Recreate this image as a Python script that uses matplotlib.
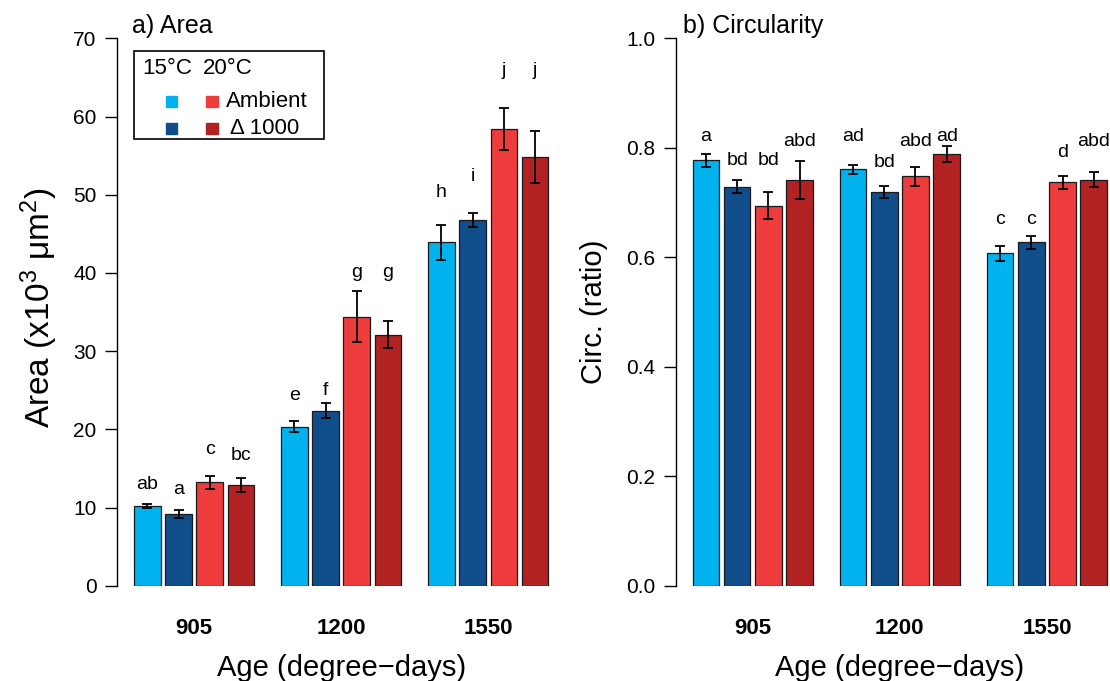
import matplotlib
matplotlib.use("Agg")
import matplotlib.pyplot as plt
from matplotlib.patches import Rectangle
import numpy as np

plt.rcParams["font.family"] = ["Liberation Sans", "DejaVu Sans"]
plt.rcParams["mathtext.fontset"] = "custom"
plt.rcParams["mathtext.rm"] = "Liberation Sans"
plt.rcParams["mathtext.it"] = "Liberation Sans:italic"

# ages (degree-days) and the four treatments per age
AGES = ["905", "1200", "1550"]
TREATMENTS = ["15°C Ambient", "15°C Δ1000", "20°C Ambient", "20°C Δ1000"]
COLORS = ["#00B2EE", "#104E8B", "#EE3B3B", "#B22222"]

# a) area (x10^3 um^2), rows = age, cols = treatment
AREA_MEAN = [[10.2, 9.2, 13.2, 12.9],
             [20.3, 22.4, 34.4, 32.1],
             [43.9, 46.8, 58.4, 54.8]]
AREA_SE = [[0.3, 0.5, 0.8, 0.9],
           [0.7, 0.9, 3.3, 1.7],
           [2.2, 0.9, 2.65, 3.35]]
AREA_LETTERS = [["ab", "a", "c", "bc"],
                ["e", "f", "g", "g"],
                ["h", "i", "j", "j"]]
AREA_LETTER_Y = [[12.4, 11.7, 16.8, 16.1],
                 [23.7, 24.4, 39.5, 39.5],
                 [49.7, 51.8, 65.3, 65.3]]

# b) circularity (ratio)
CIRC_MEAN = [[0.777, 0.729, 0.694, 0.741],
             [0.761, 0.720, 0.748, 0.789],
             [0.607, 0.627, 0.737, 0.742]]
CIRC_SE = [[0.012, 0.012, 0.025, 0.035],
           [0.008, 0.011, 0.017, 0.015],
           [0.013, 0.011, 0.012, 0.013]]
CIRC_LETTERS = [["a", "bd", "bd", "abd"],
                ["ad", "bd", "abd", "ad"],
                ["c", "c", "d", "abd"]]
CIRC_LETTER_Y = [[0.812, 0.768, 0.768, 0.803],
                 [0.812, 0.764, 0.803, 0.812],
                 [0.660, 0.660, 0.784, 0.803]]

# R-style barplot layout: width 1, space c(0.17, 1)
BAR_SPACE = 0.17
GROUP_SPACE = 1.0
n_bar = len(TREATMENTS)
group_step = n_bar + (n_bar - 1) * BAR_SPACE + GROUP_SPACE
lefts = np.array([[GROUP_SPACE + g * group_step + i * (1 + BAR_SPACE)
                   for i in range(n_bar)] for g in range(len(AGES))])
centers = lefts + 0.5
x_lo, x_hi = lefts.min(), lefts.max() + 1
pad = 0.04 * (x_hi - x_lo)

W, H = 1110, 681
fig = plt.figure(figsize=(W / 100, H / 100), dpi=100)

ax_w = (x_hi - x_lo + 2 * pad) * (414.5 / (x_hi - x_lo)) / W
ax_b = 1 - 585.7 / H
ax_h = (585.7 - 38.3) / H
ax1 = fig.add_axes([117.4 / W, ax_b, ax_w, ax_h])
ax2 = fig.add_axes([676.0 / W, ax_b, ax_w, ax_h])


def draw_panel(ax, means, ses, letters, letter_y, ymax, yticks, ticklabels):
    means = np.array(means)
    ses = np.array(ses)
    for i in range(n_bar):
        ax.bar(centers[:, i], means[:, i], width=1.0, color=COLORS[i],
               edgecolor="#1a1a1a", linewidth=0.9, zorder=2)
        ax.errorbar(centers[:, i], means[:, i], yerr=ses[:, i], fmt="none",
                    ecolor="black", elinewidth=1.3, capsize=3.5, capthick=1.3,
                    zorder=3)
    for g in range(len(AGES)):
        for i in range(n_bar):
            ax.text(centers[g, i], letter_y[g][i], letters[g][i],
                    ha="center", va="baseline", fontsize=14)
    ax.set_xlim(x_lo - pad, x_hi + pad)
    ax.set_ylim(0, ymax)
    for s in ["top", "right", "bottom"]:
        ax.spines[s].set_visible(False)
    ax.spines["left"].set_bounds(0, ymax)
    ax.spines["left"].set_linewidth(1.0)
    ax.set_yticks(yticks)
    ax.set_yticklabels(ticklabels, fontsize=15)
    ax.tick_params(axis="y", length=9, width=1.0, pad=6)
    ax.set_xticks(centers.mean(axis=1))
    ax.set_xticklabels(AGES, fontsize=16, fontweight="bold")
    ax.tick_params(axis="x", length=0, pad=23)
    ax.set_xlabel("Age (degree\u2212days)", fontsize=21, labelpad=11)


draw_panel(ax1, AREA_MEAN, AREA_SE, AREA_LETTERS, AREA_LETTER_Y, 70,
           range(0, 71, 10), [str(v) for v in range(0, 71, 10)])
draw_panel(ax2, CIRC_MEAN, CIRC_SE, CIRC_LETTERS, CIRC_LETTER_Y, 1.0,
           np.arange(0, 1.01, 0.2), ["0.0", "0.2", "0.4", "0.6", "0.8", "1.0"])

fig.text(39 / W, 1 - 308 / H, "Area (x10$^3$ μm$^2$)", rotation=90,
         ha="center", va="center", fontsize=24)
fig.text(594 / W, 1 - 312 / H, "Circ. (ratio)", rotation=90,
         ha="center", va="center", fontsize=21)
fig.text(131.7 / W, 1 - 33 / H, "a) Area", ha="left", va="baseline", fontsize=18)
fig.text(683 / W, 1 - 33 / H, "b) Circularity", ha="left", va="baseline", fontsize=18)

# legend, drawn in figure pixels
def fx(px):
    return px / W


def fy(py):
    return 1 - py / H


fig.patches.append(Rectangle((fx(134), fy(139.3)), fx(324) - fx(134),
                             fy(51) - fy(139.3), transform=fig.transFigure,
                             fill=False, edgecolor="black", linewidth=1.2))
fig.text(fx(142.7), fy(74.3), "15°C", fontsize=16, va="baseline")
fig.text(fx(203), fy(74.3), "20°C", fontsize=16, va="baseline")
sq = [(165.7, 96), (206, 96), (165.7, 123), (206, 123)]
for (px, py), c in zip(sq, [COLORS[0], COLORS[2], COLORS[1], COLORS[3]]):
    fig.patches.append(Rectangle((fx(px), fy(py + 11)), fx(11.5), 11 / H,
                                 transform=fig.transFigure, color=c))
fig.text(fx(226), fy(101.5), "Ambient", fontsize=16, va="center")
fig.text(fx(230), fy(128.5), "Δ 1000", fontsize=16, va="center")

fig.savefig("out.png", dpi=100)
